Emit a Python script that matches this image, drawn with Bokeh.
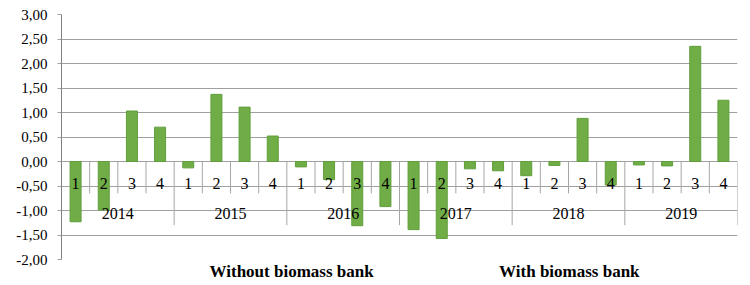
from bokeh.plotting import figure
from bokeh.models import Range1d, FixedTicker, ColumnDataSource
from bokeh.core.properties import value
from bokeh.embed import file_html
from bokeh.resources import INLINE

years = ["2014", "2015", "2016", "2017", "2018", "2019"]
quarters = ["1", "2", "3", "4"]
values = [-1.23, -0.99, 1.03, 0.70,
          -0.13, 1.37, 1.11, 0.52,
          -0.11, -0.37, -1.31, -0.92,
          -1.39, -1.57, -0.15, -0.19,
          -0.29, -0.08, 0.88, -0.48,
          -0.07, -0.09, 2.35, 1.25]
y_ticks = [-2.0, -1.5, -1.0, -0.5, 0.0, 0.5, 1.0, 1.5, 2.0, 2.5, 3.0]
y_tick_labels = ["-2,00", "-1,50", "-1,00", "-0,50", "0,00", "0,50",
                 "1,00", "1,50", "2,00", "2,50", "3,00"]
group_labels = ["Without biomass bank", "With biomass bank"]
group_pos = [8.17, 18.03]

n = len(values)
FONT = "Liberation Serif"

p = figure(width=750, height=285, output_backend="svg", toolbar_location=None,
           x_range=Range1d(0, n), y_range=Range1d(-2, 3),
           min_border_left=61, min_border_right=13, min_border_top=14,
           min_border_bottom=26)
p.outline_line_color = None
p.xgrid.visible = False

xax = p.xaxis[0]
xax.ticker = FixedTicker(ticks=group_pos)
xax.major_label_overrides = {t: l for t, l in zip(group_pos, group_labels)}
xax.major_label_text_font = FONT
xax.major_label_text_font_style = "bold"
xax.major_label_text_font_size = "17px"
xax.major_label_text_color = "#000000"
xax.axis_line_color = None
xax.major_tick_line_color = None
xax.minor_tick_line_color = None
xax.major_tick_in = 0
xax.major_tick_out = 0
xax.major_label_standoff = 2

yax = p.yaxis[0]
yax.ticker = FixedTicker(ticks=y_ticks)
yax.major_label_overrides = {t: l for t, l in zip(y_ticks, y_tick_labels)}
yax.major_label_text_font = FONT
yax.major_label_text_font_size = "15px"
yax.major_label_text_color = "#000000"
yax.axis_line_color = "#808080"
yax.major_tick_line_color = "#a0a0a0"
yax.major_tick_in = 0
yax.major_tick_out = 4
yax.minor_tick_line_color = None
yax.major_label_standoff = 10

p.ygrid.ticker = FixedTicker(ticks=y_ticks)
p.ygrid.grid_line_color = "#a0a0a0"
p.ygrid.grid_line_width = 1

xs = [i + 0.5 for i in range(n)]
src = ColumnDataSource(dict(x=xs, top=values))
p.vbar(x="x", top="top", bottom=0, width=0.39, source=src,
       fill_color="#70ad47", line_color="#5f9e3a", line_width=1)

# category separators
qx = [i for i in range(1, n) if i % 4 != 0]
p.segment(x0=qx, x1=qx, y0=[0] * len(qx), y1=[-0.65] * len(qx),
          line_color="#a6a6a6", line_width=1)
yx = [i for i in range(4, n + 1, 4)]
p.segment(x0=yx, x1=yx, y0=[0] * len(yx), y1=[-1.30] * len(yx),
          line_color="#a6a6a6", line_width=1)

# quarter labels
qlabels = [quarters[i % 4] for i in range(n)]
p.text(x=xs, y=[-0.44] * n, text=qlabels, text_align="center",
       text_baseline="middle", text_font=value(FONT),
       text_font_size="16px", text_color="#000000")
# year labels
ycent = [4 * k + 2 for k in range(len(years))]
p.text(x=ycent, y=[-1.07] * len(years), text=years, text_align="center",
       text_baseline="middle", text_font=value(FONT),
       text_font_size="16px", text_color="#000000")

open("out.html", "w").write(file_html(p, INLINE))
